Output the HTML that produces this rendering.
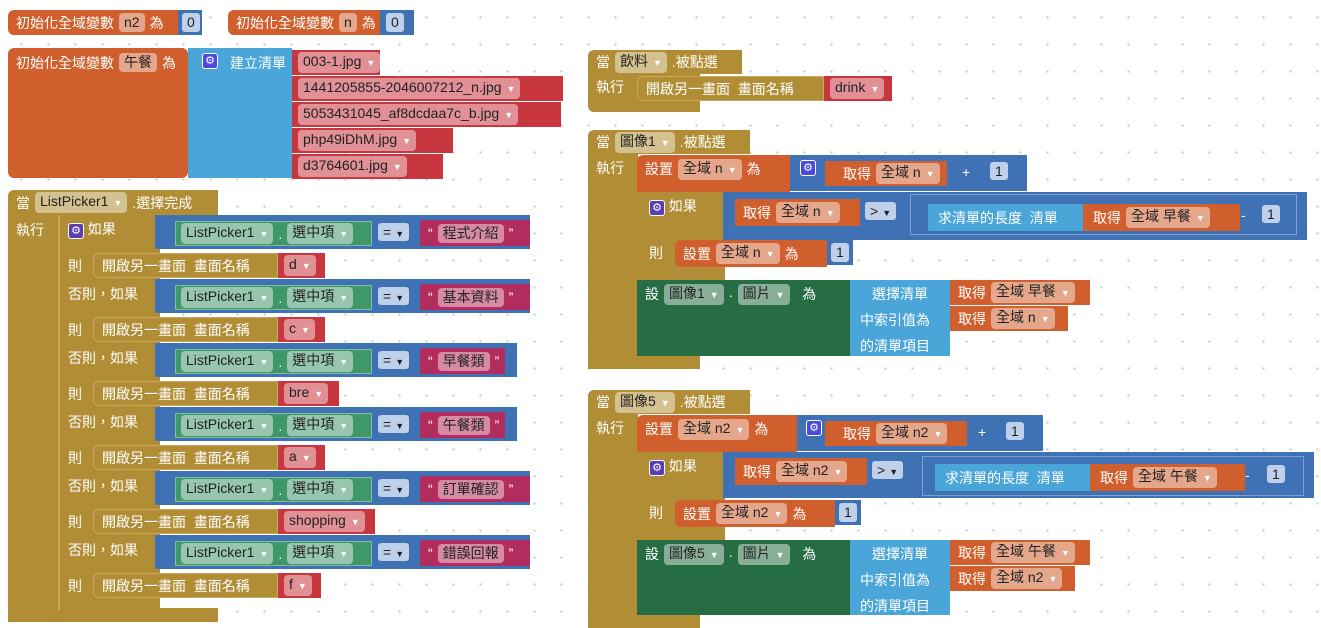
<!DOCTYPE html>
<html><head><meta charset="utf-8"><style>
body{margin:0;width:1321px;height:628px;overflow:hidden;background:#fff;
background-image:radial-gradient(circle,#ccc 1px,transparent 1.4px);background-size:27px 27px;background-position:8px 4px;position:relative}
.b{position:absolute;box-sizing:border-box;color:#fff;font:14px "Liberation Sans","Noto Sans CJK TC",sans-serif;display:flex;align-items:center;white-space:nowrap;padding-left:8px;gap:5px}
.t{position:absolute;color:#fff;font:14px "Liberation Sans","Noto Sans CJK TC",sans-serif;white-space:nowrap}
.f{background:rgba(255,255,255,.45);color:#222;border-radius:4px;padding:1px 5px;line-height:17px}
.f i{font-style:normal;font-size:9px;color:#fff;margin-left:5px}
.o{background:#d05f2d}.lb{background:#4aa5d8}.g{background:#b18e35}.bl{background:#3f71b5}.dg{background:#266d44}.gr{background:#40976a;border:1px solid #7bbf9b}.pk{background:#b22c5e}.rd{background:#c8373f}
.gear{display:inline-block;width:14px;height:14px;background:#4a4adf;border:1px solid #fff;border-radius:3px;font-size:11px;line-height:14px;text-align:center;color:#fff}
.nf{background:#bfd0ea;color:#222;border-radius:3px;padding:1px 5px;line-height:17px}
</style></head><body>

<!-- top vars -->
<div class="b o" style="left:8px;top:10px;width:170px;height:25px;border-radius:6px 0 0 6px">初始化全域變數 <span class="f">n2</span> 為</div>
<div class="b bl" style="left:178px;top:10px;width:24px;height:25px;padding-left:4px"><span class="nf">0</span></div>
<div class="b o" style="left:228px;top:10px;width:152px;height:25px;border-radius:6px 0 0 6px">初始化全域變數 <span class="f">n</span> 為</div>
<div class="b bl" style="left:380px;top:10px;width:34px;height:25px;padding-left:6px"><span class="nf">0</span></div>

<!-- list var -->
<div class="b o" style="left:8px;top:48px;width:180px;height:130px;align-items:flex-start;padding-top:5px;border-radius:6px">初始化全域變數 <span class="f">午餐</span> 為</div>
<div class="b lb" style="left:188px;top:48px;width:104px;height:130px;align-items:flex-start;padding-top:5px;padding-left:14px;gap:12px"><span class="gear">⚙</span>建立清單</div>
<div class="b rd" style="left:292px;top:50px;width:88px;height:25px;padding-left:6px"><span class="f">003-1.jpg<i>▼</i></span></div>
<div class="b rd" style="left:292px;top:76px;width:271px;height:25px;padding-left:6px"><span class="f">1441205855-2046007212_n.jpg<i>▼</i></span></div>
<div class="b rd" style="left:292px;top:102px;width:269px;height:25px;padding-left:6px"><span class="f">5053431045_af8dcdaa7c_b.jpg<i>▼</i></span></div>
<div class="b rd" style="left:292px;top:128px;width:161px;height:25px;padding-left:6px"><span class="f">php49iDhM.jpg<i>▼</i></span></div>
<div class="b rd" style="left:292px;top:154px;width:151px;height:25px;padding-left:6px"><span class="f">d3764601.jpg<i>▼</i></span></div>

<!-- ListPicker event -->
<div class="b g" style="left:8px;top:190px;width:210px;height:25px;border-radius:6px 0 0 0">當 <span class="f">ListPicker1<i>▼</i></span> .選擇完成</div>
<div class="b g" style="left:8px;top:214px;width:50px;height:408px;align-items:flex-start;padding-top:6px">執行</div>
<div class="b g" style="left:8px;top:608px;width:210px;height:14px;border-radius:0 0 0 6px"></div>
<div class="b g" style="left:58px;top:215px;width:102px;height:395px;border-left:2px solid #c9a95c"></div>
<div class="t" style="left:68px;top:219px"><span class="gear" style="background:#5b3fb0">⚙</span> 如果</div>
<div class="t" style="left:68px;top:256px">則</div>
<div class="t" style="left:68px;top:284px">否則，如果</div>
<div class="t" style="left:68px;top:320px">則</div>
<div class="t" style="left:68px;top:348px">否則，如果</div>
<div class="t" style="left:68px;top:384px">則</div>
<div class="t" style="left:68px;top:412px">否則，如果</div>
<div class="t" style="left:68px;top:448px">則</div>
<div class="t" style="left:68px;top:476px">否則，如果</div>
<div class="t" style="left:68px;top:512px">則</div>
<div class="t" style="left:68px;top:540px">否則，如果</div>
<div class="t" style="left:68px;top:576px">則</div>

<!-- compare rows -->
<div class="b bl" style="left:155px;top:215px;width:375px;height:34px"></div>
<div class="b bl" style="left:155px;top:279px;width:375px;height:34px"></div>
<div class="b bl" style="left:155px;top:343px;width:362px;height:34px"></div>
<div class="b bl" style="left:155px;top:407px;width:362px;height:34px"></div>
<div class="b bl" style="left:155px;top:471px;width:375px;height:34px"></div>
<div class="b bl" style="left:155px;top:535px;width:375px;height:34px"></div>

<div class="b gr" style="left:175px;top:221px;width:197px;height:25px;padding-left:5px"><span class="f">ListPicker1<i>▼</i></span>.<span class="f">選中項<i>▼</i></span></div>
<div class="b gr" style="left:175px;top:285px;width:197px;height:25px;padding-left:5px"><span class="f">ListPicker1<i>▼</i></span>.<span class="f">選中項<i>▼</i></span></div>
<div class="b gr" style="left:175px;top:349px;width:197px;height:25px;padding-left:5px"><span class="f">ListPicker1<i>▼</i></span>.<span class="f">選中項<i>▼</i></span></div>
<div class="b gr" style="left:175px;top:413px;width:197px;height:25px;padding-left:5px"><span class="f">ListPicker1<i>▼</i></span>.<span class="f">選中項<i>▼</i></span></div>
<div class="b gr" style="left:175px;top:477px;width:197px;height:25px;padding-left:5px"><span class="f">ListPicker1<i>▼</i></span>.<span class="f">選中項<i>▼</i></span></div>
<div class="b gr" style="left:175px;top:541px;width:197px;height:25px;padding-left:5px"><span class="f">ListPicker1<i>▼</i></span>.<span class="f">選中項<i>▼</i></span></div>

<div class="t" style="left:378px;top:224px"><span class="nf">=<i style="font-size:9px;font-style:normal;margin-left:4px">▼</i></span></div>
<div class="t" style="left:378px;top:288px"><span class="nf">=<i style="font-size:9px;font-style:normal;margin-left:4px">▼</i></span></div>
<div class="t" style="left:378px;top:352px"><span class="nf">=<i style="font-size:9px;font-style:normal;margin-left:4px">▼</i></span></div>
<div class="t" style="left:378px;top:416px"><span class="nf">=<i style="font-size:9px;font-style:normal;margin-left:4px">▼</i></span></div>
<div class="t" style="left:378px;top:480px"><span class="nf">=<i style="font-size:9px;font-style:normal;margin-left:4px">▼</i></span></div>
<div class="t" style="left:378px;top:544px"><span class="nf">=<i style="font-size:9px;font-style:normal;margin-left:4px">▼</i></span></div>

<div class="b pk" style="left:420px;top:220px;width:110px;height:26px">“ <span class="f">程式介紹</span> ”</div>
<div class="b pk" style="left:420px;top:284px;width:110px;height:26px">“ <span class="f">基本資料</span> ”</div>
<div class="b pk" style="left:420px;top:348px;width:85px;height:26px">“ <span class="f">早餐類</span> ”</div>
<div class="b pk" style="left:420px;top:412px;width:85px;height:26px">“ <span class="f">午餐類</span> ”</div>
<div class="b pk" style="left:420px;top:476px;width:110px;height:26px">“ <span class="f">訂單確認</span> ”</div>
<div class="b pk" style="left:420px;top:540px;width:110px;height:26px">“ <span class="f">錯誤回報</span> ”</div>

<!-- open screen rows -->
<div class="b g" style="left:93px;top:253px;width:185px;height:25px;border:1px solid #caa85a;border-radius:6px 0 0 6px">開啟另一畫面&nbsp; 畫面名稱</div>
<div class="b rd" style="left:278px;top:253px;width:47px;height:25px;padding-left:6px"><span class="f">d<i>▼</i></span></div>
<div class="b g" style="left:93px;top:317px;width:185px;height:25px;border:1px solid #caa85a;border-radius:6px 0 0 6px">開啟另一畫面&nbsp; 畫面名稱</div>
<div class="b rd" style="left:278px;top:317px;width:47px;height:25px;padding-left:6px"><span class="f">c<i>▼</i></span></div>
<div class="b g" style="left:93px;top:381px;width:185px;height:25px;border:1px solid #caa85a;border-radius:6px 0 0 6px">開啟另一畫面&nbsp; 畫面名稱</div>
<div class="b rd" style="left:278px;top:381px;width:61px;height:25px;padding-left:6px"><span class="f">bre<i>▼</i></span></div>
<div class="b g" style="left:93px;top:445px;width:185px;height:25px;border:1px solid #caa85a;border-radius:6px 0 0 6px">開啟另一畫面&nbsp; 畫面名稱</div>
<div class="b rd" style="left:278px;top:445px;width:47px;height:25px;padding-left:6px"><span class="f">a<i>▼</i></span></div>
<div class="b g" style="left:93px;top:509px;width:185px;height:25px;border:1px solid #caa85a;border-radius:6px 0 0 6px">開啟另一畫面&nbsp; 畫面名稱</div>
<div class="b rd" style="left:278px;top:509px;width:97px;height:25px;padding-left:6px"><span class="f">shopping<i>▼</i></span></div>
<div class="b g" style="left:93px;top:573px;width:185px;height:25px;border:1px solid #caa85a;border-radius:6px 0 0 6px">開啟另一畫面&nbsp; 畫面名稱</div>
<div class="b rd" style="left:278px;top:573px;width:43px;height:25px;padding-left:6px"><span class="f">f<i>▼</i></span></div>

<!-- 飲料 event -->
<div class="b g" style="left:588px;top:50px;width:154px;height:24px;border-radius:6px 0 0 0">當 <span class="f">飲料<i>▼</i></span> .被點選</div>
<div class="b g" style="left:588px;top:73px;width:112px;height:39px;align-items:flex-start;padding-top:4px;border-radius:0 0 0 6px">執行</div>
<div class="b g" style="left:637px;top:76px;width:187px;height:25px;border:1px solid #caa85a;border-radius:6px 0 0 6px">開啟另一畫面&nbsp; 畫面名稱</div>
<div class="b rd" style="left:824px;top:76px;width:68px;height:25px;padding-left:6px"><span class="f">drink<i>▼</i></span></div>

<!-- 圖像1 event -->
<div class="b g" style="left:588px;top:130px;width:162px;height:24px;border-radius:6px 0 0 0">當 <span class="f">圖像1<i>▼</i></span> .被點選</div>
<div class="b g" style="left:588px;top:153px;width:50px;height:216px;align-items:flex-start;padding-top:5px">執行</div>
<div class="b g" style="left:588px;top:356px;width:112px;height:13px;border-radius:0 0 0 6px"></div>
<div class="b o" style="left:637px;top:155px;width:153px;height:37px;align-items:flex-start;padding-top:4px;border-radius:6px 0 0 0">設置 <span class="f">全域 n<i>▼</i></span> 為</div>
<div class="b bl" style="left:790px;top:155px;width:237px;height:36px;padding-left:10px"></div>
<div class="t" style="left:800px;top:158px"><span class="gear">⚙</span></div>
<div class="b o" style="left:825px;top:161px;width:122px;height:25px;padding-left:18px">取得 <span class="f">全域 n<i>▼</i></span></div>
<div class="t" style="left:962px;top:164px">+</div>
<div class="t" style="left:990px;top:163px"><span class="nf">1</span></div>
<div class="b g" style="left:637px;top:192px;width:88px;height:88px"></div>
<div class="t" style="left:649px;top:196px"><span class="gear" style="background:#5b3fb0">⚙</span> 如果</div>
<div class="t" style="left:649px;top:243px">則</div>
<div class="b bl" style="left:723px;top:192px;width:584px;height:48px"></div>
<div class="b o" style="left:735px;top:199px;width:125px;height:27px;padding-left:8px">取得 <span class="f">全域 n<i>▼</i></span></div>
<div class="t" style="left:865px;top:203px"><span class="nf">&gt;<i style="font-size:9px;font-style:normal;margin-left:4px">▼</i></span></div>
<div class="b bl" style="left:910px;top:194px;width:387px;height:41px;border:1px solid #7f9fd0"></div>
<div class="b lb" style="left:928px;top:204px;width:155px;height:27px;padding-left:10px">求清單的長度&nbsp; 清單</div>
<div class="b o" style="left:1083px;top:204px;width:157px;height:27px;padding-left:10px">取得 <span class="f">全域 早餐<i>▼</i></span></div>
<div class="t" style="left:1241px;top:207px">-</div>
<div class="t" style="left:1262px;top:206px"><span class="nf">1</span></div>
<div class="b o" style="left:675px;top:240px;width:152px;height:27px;border-radius:6px 0 0 6px">設置 <span class="f">全域 n<i>▼</i></span> 為</div>
<div class="b bl" style="left:827px;top:240px;width:26px;height:25px;padding-left:4px"><span class="nf">1</span></div>
<div class="b dg" style="left:637px;top:280px;width:213px;height:76px;align-items:flex-start;padding-top:4px">設 <span class="f">圖像1<i>▼</i></span> . <span class="f">圖片<i>▼</i></span>&nbsp; 為</div>
<div class="b lb" style="left:850px;top:280px;width:100px;height:76px"></div>
<div class="t" style="left:872px;top:284px">選擇清單</div>
<div class="t" style="left:860px;top:310px">中索引值為</div>
<div class="t" style="left:860px;top:336px">的清單項目</div>
<div class="b o" style="left:950px;top:280px;width:140px;height:25px">取得 <span class="f">全域 早餐<i>▼</i></span></div>
<div class="b o" style="left:950px;top:306px;width:118px;height:25px">取得 <span class="f">全域 n<i>▼</i></span></div>

<!-- 圖像5 event -->
<div class="b g" style="left:588px;top:390px;width:162px;height:24px;border-radius:6px 0 0 0">當 <span class="f">圖像5<i>▼</i></span> .被點選</div>
<div class="b g" style="left:588px;top:413px;width:50px;height:215px;align-items:flex-start;padding-top:5px">執行</div>
<div class="b g" style="left:588px;top:615px;width:112px;height:13px"></div>
<div class="b o" style="left:637px;top:415px;width:160px;height:37px;align-items:flex-start;padding-top:4px;border-radius:6px 0 0 0">設置 <span class="f">全域 n2<i>▼</i></span> 為</div>
<div class="b bl" style="left:797px;top:415px;width:246px;height:36px"></div>
<div class="t" style="left:806px;top:418px"><span class="gear">⚙</span></div>
<div class="b o" style="left:825px;top:421px;width:142px;height:25px;padding-left:18px">取得 <span class="f">全域 n2<i>▼</i></span></div>
<div class="t" style="left:978px;top:424px">+</div>
<div class="t" style="left:1006px;top:423px"><span class="nf">1</span></div>
<div class="b g" style="left:637px;top:452px;width:88px;height:88px"></div>
<div class="t" style="left:649px;top:456px"><span class="gear" style="background:#5b3fb0">⚙</span> 如果</div>
<div class="t" style="left:649px;top:503px">則</div>
<div class="b bl" style="left:723px;top:452px;width:591px;height:46px"></div>
<div class="b o" style="left:735px;top:458px;width:132px;height:27px;padding-left:8px">取得 <span class="f">全域 n2<i>▼</i></span></div>
<div class="t" style="left:872px;top:462px"><span class="nf">&gt;<i style="font-size:9px;font-style:normal;margin-left:4px">▼</i></span></div>
<div class="b bl" style="left:922px;top:456px;width:382px;height:40px;border:1px solid #7f9fd0"></div>
<div class="b lb" style="left:935px;top:464px;width:155px;height:27px;padding-left:10px">求清單的長度&nbsp; 清單</div>
<div class="b o" style="left:1090px;top:464px;width:155px;height:27px;padding-left:10px">取得 <span class="f">全域 午餐<i>▼</i></span></div>
<div class="t" style="left:1245px;top:467px">-</div>
<div class="t" style="left:1267px;top:466px"><span class="nf">1</span></div>
<div class="b o" style="left:675px;top:500px;width:160px;height:27px;border-radius:6px 0 0 6px">設置 <span class="f">全域 n2<i>▼</i></span> 為</div>
<div class="b bl" style="left:835px;top:500px;width:26px;height:25px;padding-left:4px"><span class="nf">1</span></div>
<div class="b dg" style="left:637px;top:540px;width:213px;height:75px;align-items:flex-start;padding-top:4px">設 <span class="f">圖像5<i>▼</i></span> . <span class="f">圖片<i>▼</i></span>&nbsp; 為</div>
<div class="b lb" style="left:850px;top:540px;width:100px;height:75px"></div>
<div class="t" style="left:872px;top:544px">選擇清單</div>
<div class="t" style="left:860px;top:570px">中索引值為</div>
<div class="t" style="left:860px;top:596px">的清單項目</div>
<div class="b o" style="left:950px;top:540px;width:140px;height:25px">取得 <span class="f">全域 午餐<i>▼</i></span></div>
<div class="b o" style="left:950px;top:566px;width:125px;height:25px">取得 <span class="f">全域 n2<i>▼</i></span></div>

</body></html>
